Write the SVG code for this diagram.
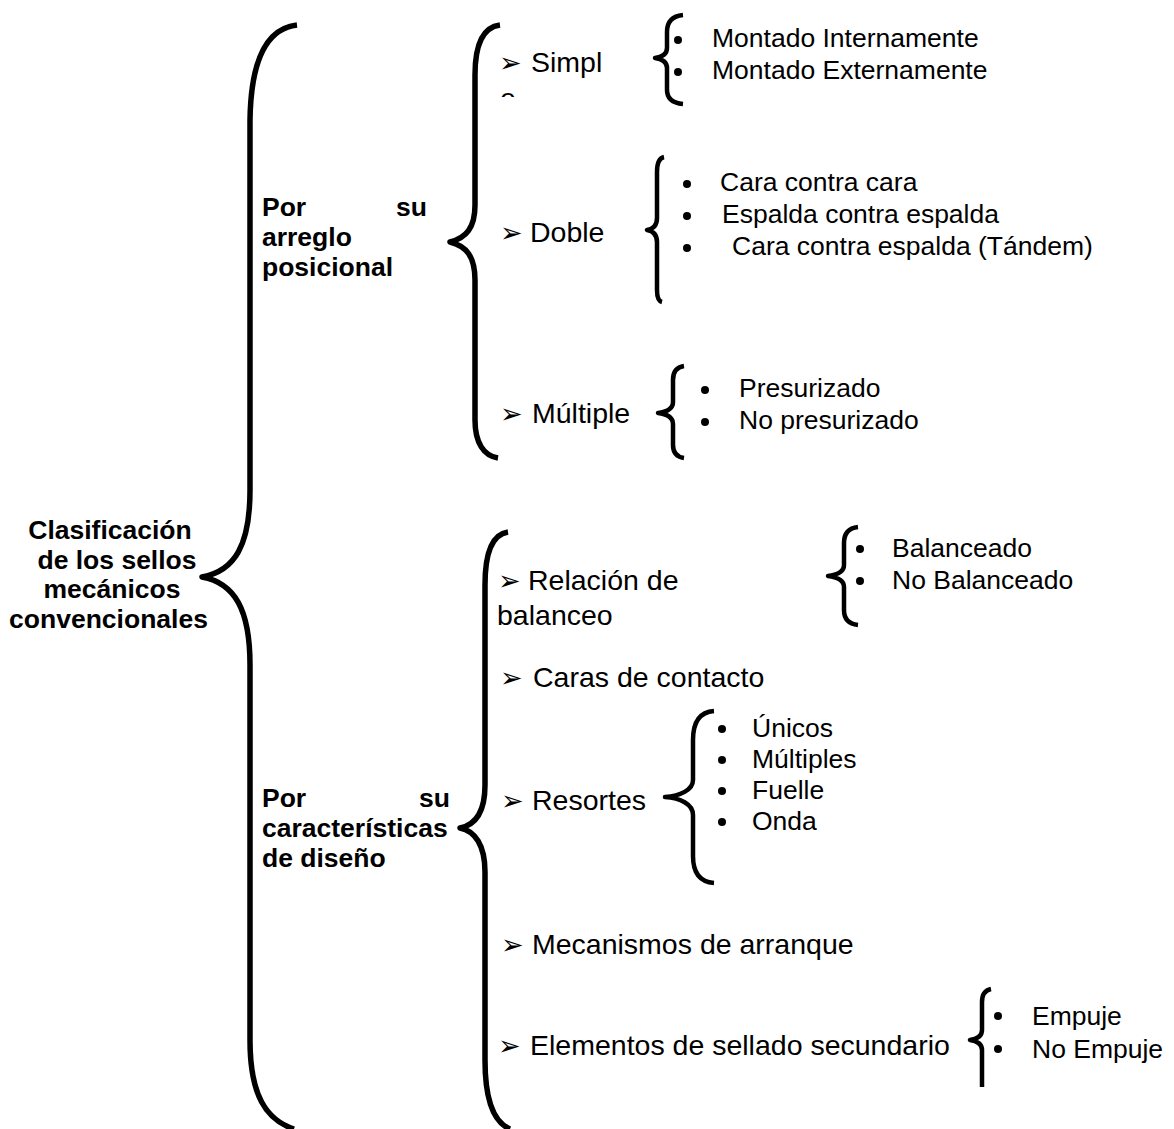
<svg xmlns="http://www.w3.org/2000/svg" width="1174" height="1129" viewBox="0 0 1174 1129">
  <style>
    .brace { fill: none; stroke: #000; stroke-width: 5.5; stroke-linecap: butt; stroke-linejoin: round; }
    .brace-s { fill: none; stroke: #000; stroke-width: 4.5; stroke-linecap: butt; stroke-linejoin: round; }
    .lbl { font-family: "Liberation Sans", Arial, sans-serif; font-weight: bold; font-size: 26.5px; fill: #000; }
    .item { font-family: "Liberation Sans", Arial, sans-serif; font-size: 28.5px; fill: #000; }
    .sub { font-family: "Liberation Sans", Arial, sans-serif; font-size: 26.5px; fill: #000; }
    .arw { font-family: "DejaVu Sans", sans-serif; font-size: 27px; fill: #000; }
    .dot { fill: #000; }
  </style>
  <defs>
    <clipPath id="cut-e"><rect x="480" y="80" width="60" height="17"/></clipPath>
  </defs>

  <rect width="1174" height="1129" fill="#fff"/>

  <!-- connectors: curly braces -->
  <g id="connectors">
    <path class="brace" d="M297,25 C270,28 251,55 250,120 L250,490 C250,545 235,571 202,577 C235,583 250,610 250,665 L250,1040 C250,1095 266,1120 294,1129"/>
    <path class="brace" d="M500,25 C484,27 475,42 475,75 L475,205 C475,228 466,238 450,242 C466,246 475,256 475,280 L475,420 C475,443 484,456 498,458"/>
    <path class="brace" d="M508,532 C494,534 485,550 485,585 L485,785 C485,812 475,825 460,828 C475,831 485,845 485,872 L485,1060 C485,1100 493,1122 510,1129"/>
    <path class="brace-s" d="M683,15 C672,16 667,22 667,32 L667,48 C667,54 662,57 655,58 C662,59 667,62 667,68 L667,90 C667,98 672,103 683,104"/>
    <path class="brace-s" d="M664,157 C659,158 657,163 657,172 L657,218 C657,225 653,229 647,230 C653,231 657,235 657,242 L657,290 C657,297 658,301 662,302"/>
    <path class="brace-s" d="M684,366 C677,367 673,372 673,380 L673,402 C673,409 666,412 658,413 C666,414 673,417 673,424 L673,445 C673,453 677,457 684,458"/>
    <path class="brace-s" d="M858,527 C849,528 844,533 844,543 L844,565 C844,572 836,575 828,576 C836,577 844,580 844,587 L844,610 C844,619 849,624 858,625"/>
    <path class="brace-s" d="M714,711 C700,712 693,722 693,740 L693,780 C693,790 680,796 665,797 C680,798 693,804 693,815 L693,856 C693,873 700,882 714,883"/>
    <path class="brace-s" d="M991,989 C986,990 982,994 982,1002 L982,1030 C982,1036 977,1039 970,1040 C977,1041 982,1044 982,1050 L982,1087"/>
  </g>

  <!-- root -->
  <g id="root">
    <text class="lbl" text-anchor="middle" x="110" y="539">Clasificación</text>
    <text class="lbl" text-anchor="middle" x="117" y="568.5">de los sellos</text>
    <text class="lbl" text-anchor="middle" x="112" y="598">mecánicos</text>
    <text class="lbl" text-anchor="middle" x="108.5" y="627.5">convencionales</text>
  </g>

  <!-- first branch -->
  <g id="arreglo">
    <text class="lbl" x="262" y="216">Por</text>
    <text class="lbl" x="427" y="216" text-anchor="end">su</text>
    <text class="lbl" x="262" y="246">arreglo</text>
    <text class="lbl" x="262" y="276">posicional</text>
  </g>

  <g id="simple">
    <text class="arw" x="499" y="72">➢</text>
    <text class="item" x="531" y="72">Simpl</text>
    <text class="item" x="500" y="107.5" clip-path="url(#cut-e)">e</text>
    <circle class="dot" cx="678" cy="40" r="4"/>
    <text class="sub" x="712" y="47">Montado Internamente</text>
    <circle class="dot" cx="678" cy="72" r="4"/>
    <text class="sub" x="712" y="79">Montado Externamente</text>
  </g>

  <g id="doble">
    <text class="arw" x="500" y="242">➢</text>
    <text class="item" x="530" y="242">Doble</text>
    <circle class="dot" cx="687" cy="184" r="4"/>
    <text class="sub" x="720" y="191">Cara contra cara</text>
    <circle class="dot" cx="687" cy="216" r="4"/>
    <text class="sub" x="722" y="223">Espalda contra espalda</text>
    <circle class="dot" cx="687" cy="248" r="4"/>
    <text class="sub" x="732" y="255">Cara contra espalda (Tándem)</text>
  </g>

  <g id="multiple">
    <text class="arw" x="500" y="423">➢</text>
    <text class="item" x="532" y="423">Múltiple</text>
    <circle class="dot" cx="705" cy="390" r="4"/>
    <text class="sub" x="739" y="397">Presurizado</text>
    <circle class="dot" cx="705" cy="422" r="4"/>
    <text class="sub" x="739" y="429">No presurizado</text>
  </g>

  <!-- second branch -->
  <g id="diseno">
    <text class="lbl" x="262" y="807">Por</text>
    <text class="lbl" x="450" y="807" text-anchor="end">su</text>
    <text class="lbl" x="262" y="837">características</text>
    <text class="lbl" x="262" y="867">de diseño</text>
  </g>

  <g id="balanceo">
    <text class="arw" x="498" y="590">➢</text>
    <text class="item" x="528" y="590">Relación de</text>
    <text class="item" x="497" y="625">balanceo</text>
    <circle class="dot" cx="860" cy="549" r="4"/>
    <text class="sub" x="892" y="557">Balanceado</text>
    <circle class="dot" cx="860" cy="581" r="4"/>
    <text class="sub" x="892" y="589">No Balanceado</text>
  </g>

  <g id="caras">
    <text class="arw" x="500" y="687">➢</text>
    <text class="item" x="533" y="687">Caras de contacto</text>
  </g>

  <g id="resortes">
    <text class="arw" x="501" y="810">➢</text>
    <text class="item" x="532" y="810">Resortes</text>
    <circle class="dot" cx="722" cy="729" r="4"/>
    <text class="sub" x="752" y="737">Únicos</text>
    <circle class="dot" cx="722" cy="760" r="4"/>
    <text class="sub" x="752" y="768">Múltiples</text>
    <circle class="dot" cx="722" cy="791" r="4"/>
    <text class="sub" x="752" y="799">Fuelle</text>
    <circle class="dot" cx="722" cy="822" r="4"/>
    <text class="sub" x="752" y="830">Onda</text>
  </g>

  <g id="arranque">
    <text class="arw" x="501" y="954">➢</text>
    <text class="item" x="532" y="954">Mecanismos de arranque</text>
  </g>

  <g id="secundario">
    <text class="arw" x="498" y="1055">➢</text>
    <text class="item" x="530" y="1055">Elementos de sellado secundario</text>
    <circle class="dot" cx="998" cy="1016" r="4"/>
    <text class="sub" x="1032" y="1025">Empuje</text>
    <circle class="dot" cx="998" cy="1049" r="4"/>
    <text class="sub" x="1032" y="1058">No Empuje</text>
  </g>
</svg>
